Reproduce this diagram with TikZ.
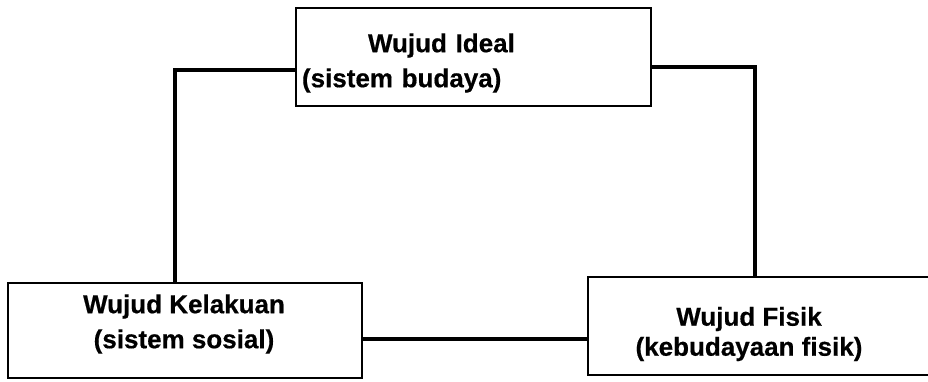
\documentclass[tikz,border=0pt]{standalone}
\usepackage{fontspec}
\setmainfont{Liberation Sans}[FakeBold=0.5]
\usetikzlibrary{calc}
\tikzset{
	box/.style={rectangle,draw,line width=1.5pt,inner sep=0pt},
	boxtext/.style={draw=none,inner sep=0pt,align=center,font=\fontsize{26pt}{35pt}\selectfont\bfseries},
	link/.style={line width=4.5pt}
}

\begin{document}
\begin{tikzpicture}[x=1pt,y=-1pt]
		\useasboundingbox (0,0) rectangle (928,381);
		% boxes
		\node[box,minimum width=355pt,minimum height=98pt] (ideal) at (473.5,57) {};
		\node[box,minimum width=354pt,minimum height=95pt] (kelakuan) at (185,330.5) {};
		\node[box,minimum width=352pt,minimum height=98pt] (fisik) at (764,326) {};
		
		% texts
		\node[boxtext,text width=343pt,align=left] (idealtext) at (473.5,63) {\hspace*{66pt}Wujud Ideal\\(sistem budaya)};
		\node[boxtext] (kelakuantext) at (184,324) {Wujud Kelakuan\\(sistem sosial)};
		\node[boxtext,font=\fontsize{26pt}{30pt}\selectfont\bfseries] (fisiktext) at (749,334) {Wujud Fisik\\(kebudayaan fisik)};
		
		% connectors
		\draw[link] ([yshift=-13pt]ideal.west) -| ([xshift=-10pt]kelakuan.north);
		\draw[link] ([yshift=-10pt]ideal.east) -| ([xshift=-9pt]fisik.north);
		\draw[link] ([yshift=-8.5pt]kelakuan.east) -- ([yshift=-8.5pt]kelakuan.east -| fisik.west);
\end{tikzpicture}
\end{document}
